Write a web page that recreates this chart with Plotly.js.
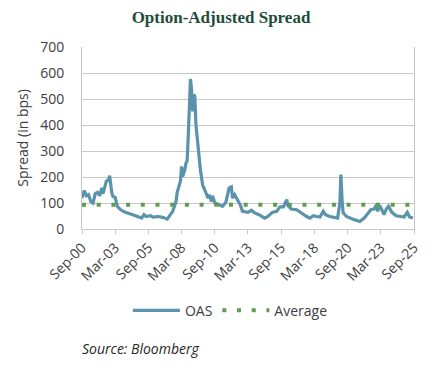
<!DOCTYPE html>
<html>
<head>
<meta charset="utf-8">
<script src="https://cdn.plot.ly/plotly-3.0.1.min.js"></script>
<style>
html,body{margin:0;padding:0;background:#fff;}
#chart{width:442px;height:368px;}
</style>
</head>
<body>
<div id="chart"></div>
<script>
// OAS series (bps)
const dates = [
 '2000-09','2000-11','2001-01','2001-03','2001-05','2001-07','2001-09','2001-11',
 '2002-01','2002-03','2002-04','2002-07','2002-09','2002-10','2002-12',
 '2003-01','2003-03','2003-05','2003-08','2003-12',
 '2004-05','2004-09','2004-12','2005-03','2005-05','2005-07','2005-11',
 '2006-01','2006-06','2006-10','2007-02','2007-04','2007-07','2007-09','2007-10','2007-11','2007-12',
 '2008-01','2008-02','2008-03','2008-04','2008-05','2008-06','2008-07','2008-08','2008-09','2008-10','2008-11','2008-12',
 '2009-01','2009-02','2009-03','2009-04','2009-06','2009-08','2009-10',
 '2010-01','2010-03','2010-04','2010-06','2010-07','2010-09',
 '2011-01','2011-04','2011-07','2011-09','2011-10','2011-12',
 '2012-01','2012-03','2012-04','2012-06','2012-08','2012-10',
 '2013-03','2013-06','2013-09','2014-01','2014-06','2014-09',
 '2015-01','2015-05','2015-08','2015-11','2016-02','2016-03','2016-06','2016-11',
 '2017-03','2017-08','2017-11','2018-02','2018-05','2018-08','2018-11',
 '2019-01','2019-05','2019-09','2019-12','2020-02','2020-03','2020-04','2020-05','2020-08','2020-11',
 '2021-03','2021-08','2021-12','2022-03','2022-06','2022-09','2022-11','2022-12',
 '2023-02','2023-04','2023-06','2023-08','2023-10','2024-01','2024-05','2024-09','2024-12',
 '2025-03','2025-05','2025-08'
];
const oas = [
 119,148,128,132,106,100,136,141,
 128,158,136,183,190,205,138,
 125,122,87,74,64,
 58,52,48,42,55,48,51,
 46,48,45,38,48,68,93,106,140,158,
 165,185,241,202,215,228,254,262,356,510,577,536,
 452,517,510,401,311,228,170,
 138,119,132,106,128,100,
 93,87,102,151,158,162,
 119,132,125,106,93,68,
 64,72,62,55,42,48,
 64,68,85,85,113,90,77,74,
 62,48,42,51,48,46,68,
 55,48,46,42,100,209,113,62,48,42,
 36,29,42,58,74,77,93,68,
 90,74,55,77,87,64,51,48,46,
 64,46,42
];
const averageValue = 93;
const averageDates = ['2000-09-01','2025-09-01'];
const tickDates = ['2000-09-01','2003-03-01','2005-09-01','2008-03-01','2010-09-01','2013-03-01',
                   '2015-09-01','2018-03-01','2020-09-01','2023-03-01','2025-09-01'];
const tickLabels = ['Sep-00','Mar-03','Sep-05','Mar-08','Sep-10','Mar-13','Sep-15','Mar-18','Sep-20','Mar-23','Sep-25'];

const traces = [
  {x: dates, y: oas, type:'scatter', mode:'lines', name:'OAS',
   line:{color:'#5b93ad', width:3.2}},
  {x: averageDates, y: averageDates.map(()=>averageValue), type:'scatter', mode:'lines', name:'Average',
   line:{color:'#5e9e4c', width:4, dash:'4px,10.7px'}}
];

const layout = {
  width:442, height:368,
  margin:{l:82, r:28, t:47, b:139, autoexpand:false},
  paper_bgcolor:'#fff', plot_bgcolor:'#fff',
  font:{family:'"Open Sans", sans-serif', color:'#404040', size:14},
  title:{text:'<b>Option-Adjusted Spread</b>', x:0.5, xanchor:'center', y:0.955, yanchor:'middle',
         font:{family:'"Liberation Serif", serif', size:17, color:'#1e4d3b'}},
  xaxis:{type:'date', range:['2000-09-01','2025-09-01'], tickvals:tickDates, ticktext:tickLabels,
         tickangle:-45, showgrid:false, showline:true, linecolor:'#c8c8c8', linewidth:1,
         ticks:'outside', ticklen:4, tickcolor:'#c8c8c8', tickfont:{size:14, color:'#404040'}, zeroline:false},
  yaxis:{range:[0,700], dtick:100, showgrid:true, gridcolor:'#c8c8c8', gridwidth:1,
         showline:true, mirror:true, linecolor:'#c8c8c8', ticks:'', zeroline:false,
         ticklabelstandoff:14,
         tickfont:{size:14, color:'#404040'},
         title:{text:'Spread (in bps)', font:{size:14, color:'#404040'}, standoff:8}},
  showlegend:true,
  legend:{orientation:'h', xref:'paper', x:0.447, xanchor:'center', y:-0.449, yanchor:'middle',
          font:{size:14, color:'#404040'}, itemwidth:47, bgcolor:'rgba(0,0,0,0)'},
  annotations:[{text:'Source: Bloomberg', xref:'paper', yref:'paper', x:-0.005, xanchor:'left',
                y:-0.655, yanchor:'middle', showarrow:false,
                font:{size:14, color:'#262626', style:'italic'}}]
};

Plotly.newPlot('chart', traces, layout, {displayModeBar:false, staticPlot:true});
</script>
</body>
</html>
